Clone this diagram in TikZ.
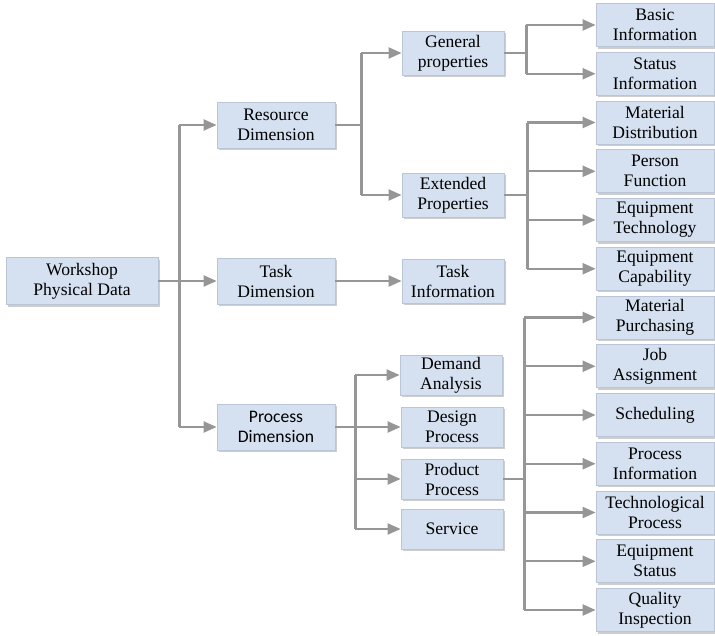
\documentclass[tikz,border=0pt]{standalone}
\usepackage{fontspec}
\setmainfont{Liberation Serif}
\newfontfamily\calibrifont{Carlito}
\usetikzlibrary{arrows.meta,shadows}
\definecolor{boxfill}{RGB}{213,225,240}
\definecolor{boxedge}{RGB}{186,198,214}
\definecolor{linkgray}{RGB}{150,150,150}
\definecolor{shade}{RGB}{205,205,205}
\tikzset{
  cell/.style={draw=boxedge, fill=boxfill, line width=0.8pt, inner sep=0pt,
    align=center, text=black, font=\rmfamily\fontsize{17.6}{20}\selectfont,
    drop shadow={shadow xshift=2pt, shadow yshift=-2pt, fill=shade, opacity=1}},
  rootcell/.style={cell, minimum width=152pt, minimum height=47pt},
  dimcell/.style={cell, minimum width=118pt, minimum height=46pt},
  midcell/.style={cell, minimum width=102pt, minimum height=44pt},
  lowcell/.style={cell, minimum width=102pt, minimum height=40pt},
  leafcell/.style={cell, minimum width=118pt, minimum height=43pt},
  wire/.style={draw=linkgray, line width=2.2pt},
  link/.style={wire, -{Triangle[length=13pt,width=11pt,fill=linkgray]}},
}
% #1 parent, #2 trunk offset, #3 first child, #4 last child, #5 children
\newcommand\branchset[5]{%
  \coordinate (t) at ([xshift=#2]#1.east);
  \draw[wire] (#1.east) -- (t);
  \draw[wire] (t |- #3.west) -- (t |- #4.west);
  \foreach \c in {#5} \draw[link] (t |- \c.west) -- (\c.west);
}
\begin{document}
\begin{tikzpicture}[x=1pt,y=-1pt]
\useasboundingbox (0,0) rectangle (715,635);

% root and first level
\node[rootcell] (root) at (82,281) {Workshop\\Physical Data};
\node[dimcell] (res) at (276,125) {Resource\\Dimension};
\node[dimcell] (task) at (276,281) {Task\\Dimension};
\node[dimcell, font=\calibrifont\fontsize{17.6}{20}\selectfont] (proc) at (276,427) {Process\\Dimension};

% second level
\node[midcell] (gen) at (453,53) {General\\properties};
\node[midcell] (ext) at (453,195) {Extended\\Properties};
\node[midcell] (tinfo) at (453,281) {Task\\Information};
\node[lowcell] (dem) at (451,375) {Demand\\Analysis};
\node[lowcell] (des) at (452,427) {Design\\Process};
\node[lowcell] (prod) at (452,479) {Product\\Process};
\node[lowcell] (serv) at (452,529) {Service};

% leaves
\node[leafcell] (basic) at (655,25) {Basic\\Information};
\node[leafcell] (status) at (655,73.75) {Status\\Information};
\node[leafcell] (matd) at (655,122.5) {Material\\Distribution};
\node[leafcell] (person) at (655,171.25) {Person\\Function};
\node[leafcell] (eqtech) at (655,220) {Equipment\\Technology};
\node[leafcell] (eqcap) at (655,268.75) {Equipment\\Capability};
\node[leafcell] (matp) at (655,317.5) {Material\\Purchasing};
\node[leafcell] (job) at (655,366.25) {Job\\Assignment};
\node[leafcell] (sched) at (655,415) {Scheduling};
\node[leafcell] (pinfo) at (655,463.75) {Process\\Information};
\node[leafcell] (tech) at (655,512.5) {Technological\\Process};
\node[leafcell] (eqstat) at (655,561.25) {Equipment\\Status};
\node[leafcell] (qual) at (655,610) {Quality\\Inspection};

% connectors
\branchset{root}{21pt}{res}{proc}{res,task,proc}
\branchset{res}{26pt}{gen}{ext}{gen,ext}
\draw[link] (task.east) -- (tinfo.west);
\branchset{proc}{20pt}{dem}{serv}{dem,des,prod,serv}
\branchset{gen}{22pt}{basic}{status}{basic,status}
\branchset{ext}{23pt}{matd}{eqcap}{matd,person,eqtech,eqcap}
\branchset{prod}{21pt}{matp}{qual}{matp,job,sched,pinfo,tech,eqstat,qual}
\end{tikzpicture}
\end{document}
